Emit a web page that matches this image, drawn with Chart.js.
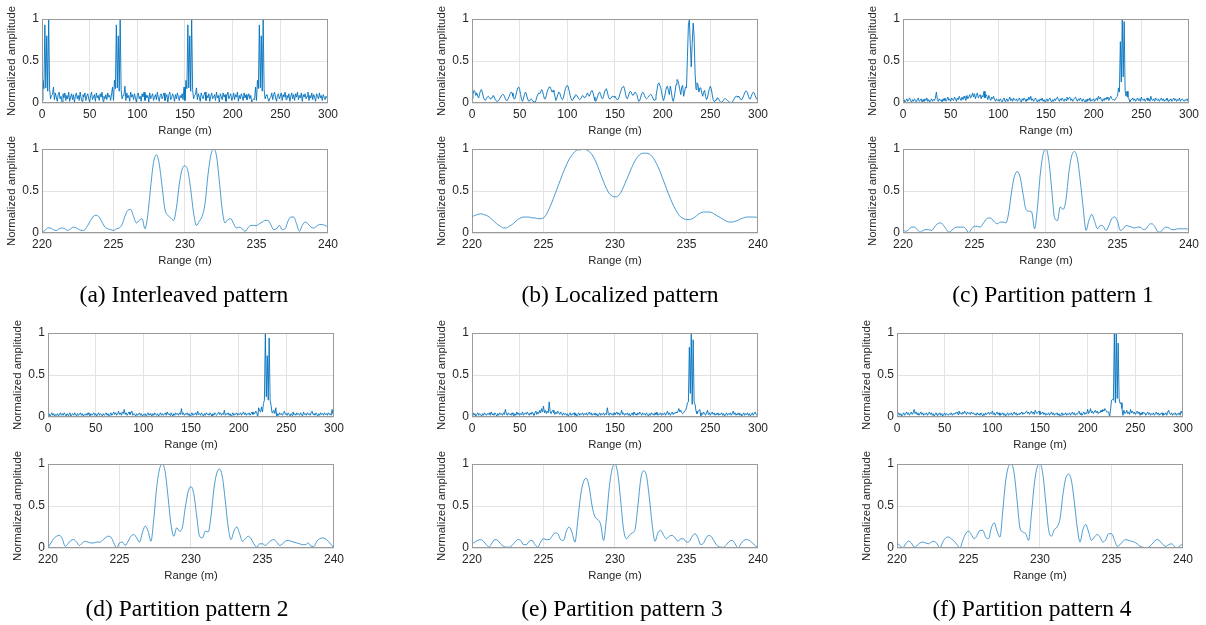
<!DOCTYPE html>
<html>
<head>
<meta charset="utf-8">
<title>Perfis de alcance</title>
<script src="https://cdn.jsdelivr.net/npm/chart.js@4.4.0/dist/chart.umd.min.js"></script>
<style>
  body { margin: 0; width: 1206px; height: 625px; background: #fff; position: relative; overflow: hidden; }
  canvas { position: absolute; }
  .legenda {
    position: absolute;
    font-family: "Liberation Serif", "Times New Roman", serif;
    font-size: 23.5px;
    color: #000;
    white-space: nowrap;
    transform: translate(-50%, -50%);
  }
</style>
</head>
<body>
<script>
// Ticks dos eixos
const rangeTicksWide = [0, 50, 100, 150, 200, 250, 300];
const rangeTicksZoom = [220, 225, 230, 235, 240];
const ampTicks = [0, 0.5, 1];

// Amostragem: 0..300 m de 1 em 1 m, 220..240 m de 0.2 em 0.2 m
const wideStart = 0, wideStep = 1;
const zoomStart = 220, zoomStep = 0.2;

// Perfis completos (0-300 m)
const wideInterleaved = [
  0.03,0.27,0.17,0.93,0.18,0.80,0.14,1.00,0.16,0.05,0.09,0.10,0.19,0.04,0.12,0.07,0.02,0.10,0.13,0.05,
  0.08,0.01,0.11,0.06,0.12,0.03,0.09,0.05,0.13,0.02,0.07,0.11,0.04,0.10,0.01,0.08,0.12,0.05,0.09,0.03,
  0.13,0.06,0.02,0.10,0.07,0.12,0.03,0.08,0.11,0.05,0.01,0.09,0.13,0.04,0.07,0.10,0.02,0.12,0.06,0.09,
  0.03,0.11,0.07,0.13,0.02,0.08,0.05,0.10,0.04,0.12,0.07,0.09,0.03,0.11,0.19,0.03,0.27,0.17,0.93,0.18,
  0.80,0.14,1.00,0.16,0.05,0.09,0.10,0.20,0.03,0.12,0.06,0.09,0.02,0.13,0.07,0.10,0.04,0.11,0.06,0.01,
  0.09,0.12,0.05,0.08,0.02,0.11,0.07,0.13,0.03,0.10,0.06,0.09,0.01,0.12,0.05,0.08,0.11,0.03,0.07,0.10,
  0.04,0.13,0.06,0.02,0.09,0.11,0.05,0.08,0.12,0.03,0.07,0.10,0.01,0.09,0.13,0.04,0.06,0.11,0.08,0.02,
  0.10,0.05,0.12,0.07,0.03,0.09,0.06,0.11,0.04,0.19,0.03,0.27,0.17,0.93,0.18,0.80,0.14,1.00,0.16,0.05,
  0.09,0.10,0.18,0.04,0.11,0.07,0.02,0.12,0.08,0.05,0.10,0.13,0.03,0.09,0.06,0.11,0.02,0.08,0.12,0.05,
  0.07,0.10,0.03,0.13,0.06,0.09,0.01,0.11,0.08,0.04,0.12,0.07,0.10,0.02,0.09,0.13,0.05,0.08,0.11,0.03,
  0.06,0.12,0.04,0.10,0.07,0.13,0.02,0.09,0.05,0.11,0.08,0.03,0.12,0.06,0.10,0.04,0.07,0.11,0.05,0.09,
  0.01,0.03,0.05,0.04,0.19,0.03,0.27,0.17,0.93,0.18,0.80,0.14,1.00,0.16,0.05,0.09,0.10,0.05,0.02,0.06,
  0.07,0.12,0.04,0.10,0.13,0.06,0.02,0.09,0.11,0.05,0.08,0.12,0.03,0.10,0.07,0.13,0.04,0.09,0.06,0.11,
  0.02,0.08,0.12,0.05,0.10,0.03,0.11,0.07,0.13,0.04,0.09,0.06,0.12,0.02,0.10,0.07,0.11,0.05,0.08,0.13,
  0.03,0.09,0.06,0.12,0.04,0.10,0.07,0.02,0.11,0.08,0.05,0.12,0.06,0.09,0.03,0.10,0.07,0.04,0.08,0.06,
  0.21
];
const wideLocalized = [
  0.05,0.10,0.15,0.14,0.09,0.12,0.08,0.06,0.11,0.15,0.16,0.12,0.07,0.04,0.03,0.05,0.07,0.08,0.07,0.05,
  0.05,0.07,0.09,0.08,0.05,0.03,0.02,0.02,0.03,0.05,0.07,0.09,0.10,0.10,0.08,0.05,0.03,0.03,0.05,0.08,
  0.11,0.13,0.12,0.08,0.05,0.05,0.09,0.14,0.18,0.19,0.16,0.10,0.04,0.02,0.05,0.10,0.13,0.11,0.06,0.03,
  0.02,0.04,0.05,0.04,0.02,0.01,0.00,0.03,0.07,0.10,0.12,0.11,0.13,0.16,0.14,0.09,0.05,0.05,0.09,0.14,
  0.17,0.19,0.19,0.16,0.13,0.15,0.13,0.08,0.03,0.06,0.10,0.13,0.12,0.08,0.05,0.04,0.07,0.12,0.17,0.20,
  0.21,0.19,0.14,0.09,0.05,0.03,0.04,0.07,0.09,0.10,0.09,0.07,0.05,0.04,0.05,0.07,0.09,0.08,0.06,0.07,
  0.09,0.12,0.10,0.08,0.11,0.14,0.15,0.12,0.07,0.03,0.02,0.05,0.09,0.12,0.13,0.10,0.06,0.05,0.08,0.13,
  0.16,0.17,0.13,0.08,0.05,0.05,0.06,0.08,0.08,0.07,0.08,0.06,0.04,0.04,0.06,0.10,0.14,0.17,0.19,0.20,
  0.17,0.11,0.06,0.05,0.08,0.12,0.14,0.13,0.10,0.09,0.11,0.13,0.13,0.10,0.05,0.02,0.03,0.07,0.11,0.13,
  0.12,0.09,0.06,0.05,0.06,0.07,0.09,0.10,0.10,0.08,0.05,0.03,0.04,0.08,0.15,0.22,0.24,0.21,0.18,0.12,
  0.06,0.03,0.07,0.13,0.19,0.20,0.15,0.10,0.20,0.14,0.06,0.02,0.06,0.13,0.22,0.28,0.27,0.22,0.16,0.10,
  0.19,0.21,0.08,0.13,0.19,0.18,0.55,0.93,0.99,0.70,0.43,0.71,0.95,0.79,0.36,0.16,0.24,0.22,0.13,0.18,
  0.18,0.12,0.08,0.13,0.15,0.08,0.04,0.06,0.12,0.17,0.20,0.17,0.10,0.04,0.02,0.02,0.04,0.06,0.06,0.04,
  0.02,0.01,0.01,0.02,0.04,0.05,0.05,0.04,0.03,0.02,0.01,0.01,0.00,0.01,0.03,0.05,0.07,0.08,0.08,0.07,
  0.08,0.06,0.04,0.04,0.06,0.09,0.12,0.14,0.14,0.12,0.08,0.05,0.05,0.08,0.11,0.13,0.12,0.09,0.06,0.04,
  0.03
];
const widePartition1 = [
  0.02,0.04,0.01,0.03,0.05,0.02,0.04,0.06,0.03,0.01,0.04,0.02,0.05,0.03,0.01,0.04,0.06,0.02,0.03,0.05,
  0.01,0.04,0.02,0.05,0.03,0.06,0.02,0.04,0.01,0.03,0.05,0.02,0.04,0.03,0.06,0.13,0.04,0.02,0.05,0.03,
  0.04,0.01,0.05,0.03,0.06,0.02,0.04,0.07,0.03,0.05,0.02,0.06,0.04,0.03,0.07,0.05,0.02,0.06,0.04,0.08,
  0.05,0.03,0.07,0.04,0.08,0.06,0.03,0.09,0.05,0.07,0.10,0.06,0.08,0.12,0.07,0.11,0.05,0.09,0.12,0.06,
  0.08,0.10,0.05,0.09,0.07,0.14,0.06,0.10,0.08,0.04,0.09,0.06,0.03,0.07,0.05,0.08,0.04,0.02,0.05,0.03,
  0.04,0.02,0.05,0.03,0.01,0.04,0.06,0.02,0.03,0.05,0.02,0.04,0.07,0.03,0.05,0.02,0.06,0.04,0.03,0.05,
  0.02,0.04,0.06,0.03,0.01,0.05,0.03,0.06,0.04,0.02,0.05,0.03,0.07,0.04,0.08,0.03,0.05,0.02,0.04,0.06,
  0.03,0.01,0.04,0.02,0.05,0.03,0.06,0.02,0.04,0.01,0.03,0.05,0.02,0.04,0.06,0.03,0.01,0.04,0.02,0.05,
  0.03,0.06,0.07,0.04,0.02,0.05,0.03,0.06,0.04,0.02,0.05,0.03,0.07,0.04,0.06,0.07,0.03,0.05,0.02,0.04,
  0.06,0.07,0.04,0.02,0.05,0.03,0.06,0.04,0.02,0.05,0.03,0.01,0.04,0.02,0.05,0.03,0.06,0.02,0.04,0.03,
  0.05,0.02,0.04,0.06,0.03,0.08,0.05,0.07,0.04,0.02,0.05,0.03,0.06,0.04,0.07,0.05,0.03,0.06,0.08,0.05,
  0.04,0.04,0.03,0.05,0.07,0.08,0.18,0.13,0.73,0.25,1.00,0.31,0.97,0.15,0.08,0.14,0.07,0.05,0.01,0.04,
  0.04,0.06,0.03,0.05,0.02,0.04,0.06,0.03,0.05,0.02,0.07,0.04,0.03,0.05,0.02,0.04,0.06,0.03,0.05,0.02,
  0.08,0.04,0.03,0.05,0.02,0.06,0.04,0.03,0.05,0.02,0.04,0.06,0.03,0.05,0.02,0.04,0.03,0.06,0.02,0.04,
  0.03,0.05,0.02,0.04,0.06,0.03,0.05,0.02,0.04,0.03,0.06,0.02,0.04,0.05,0.03,0.02,0.04,0.03,0.05,0.02,
  0.03
];
const widePartition2 = [
  0.02,0.04,0.01,0.03,0.05,0.02,0.04,0.01,0.03,0.02,0.04,0.01,0.03,0.05,0.02,0.04,0.02,0.05,0.03,0.01,
  0.04,0.02,0.03,0.05,0.01,0.03,0.04,0.02,0.05,0.03,0.01,0.04,0.02,0.03,0.05,0.02,0.04,0.01,0.03,0.02,
  0.04,0.02,0.05,0.03,0.01,0.04,0.02,0.03,0.05,0.02,0.04,0.01,0.03,0.05,0.02,0.04,0.03,0.01,0.04,0.02,
  0.03,0.05,0.02,0.04,0.01,0.03,0.05,0.02,0.04,0.06,0.03,0.05,0.02,0.04,0.07,0.03,0.05,0.02,0.06,0.04,
  0.09,0.03,0.05,0.02,0.04,0.06,0.03,0.05,0.07,0.02,0.04,0.03,0.01,0.04,0.02,0.03,0.05,0.02,0.04,0.01,
  0.03,0.02,0.04,0.01,0.03,0.05,0.02,0.04,0.03,0.01,0.04,0.02,0.05,0.03,0.02,0.04,0.01,0.03,0.05,0.02,
  0.04,0.02,0.03,0.05,0.02,0.06,0.03,0.04,0.02,0.05,0.03,0.01,0.04,0.02,0.05,0.03,0.04,0.02,0.05,0.03,
  0.10,0.03,0.05,0.02,0.04,0.03,0.05,0.02,0.04,0.01,0.03,0.05,0.02,0.04,0.03,0.05,0.02,0.07,0.03,0.04,
  0.02,0.05,0.03,0.01,0.04,0.02,0.05,0.03,0.04,0.02,0.05,0.03,0.01,0.04,0.02,0.05,0.03,0.02,0.04,0.06,
  0.03,0.05,0.02,0.04,0.03,0.08,0.02,0.04,0.03,0.05,0.02,0.04,0.01,0.03,0.05,0.02,0.04,0.03,0.05,0.02,
  0.04,0.03,0.05,0.02,0.04,0.06,0.03,0.05,0.02,0.04,0.03,0.05,0.02,0.04,0.06,0.03,0.05,0.04,0.07,0.05,
  0.00,0.11,0.07,0.06,0.12,0.06,0.16,0.20,1.00,0.24,0.73,0.20,0.94,0.20,0.14,0.05,0.07,0.08,0.04,0.11,
  0.00,0.04,0.02,0.05,0.03,0.04,0.02,0.05,0.07,0.03,0.04,0.02,0.05,0.03,0.01,0.04,0.02,0.06,0.03,0.04,
  0.02,0.05,0.03,0.04,0.02,0.05,0.03,0.01,0.06,0.03,0.04,0.02,0.05,0.03,0.04,0.02,0.05,0.07,0.03,0.04,
  0.02,0.05,0.03,0.01,0.04,0.02,0.05,0.03,0.04,0.02,0.05,0.03,0.04,0.02,0.05,0.03,0.04,0.02,0.09,0.03,
  0.02
];
const widePartition3 = [
  0.03,0.05,0.02,0.04,0.01,0.03,0.05,0.02,0.04,0.03,0.01,0.04,0.02,0.05,0.03,0.02,0.04,0.03,0.05,0.02,
  0.06,0.03,0.04,0.02,0.05,0.03,0.01,0.04,0.02,0.05,0.03,0.04,0.02,0.05,0.03,0.09,0.04,0.02,0.05,0.03,
  0.04,0.02,0.05,0.03,0.01,0.04,0.02,0.06,0.03,0.05,0.02,0.04,0.03,0.06,0.02,0.04,0.05,0.03,0.06,0.04,
  0.02,0.05,0.03,0.06,0.04,0.02,0.05,0.07,0.03,0.06,0.04,0.08,0.05,0.10,0.06,0.13,0.05,0.08,0.04,0.07,
  0.05,0.18,0.06,0.04,0.07,0.08,0.05,0.03,0.06,0.04,0.07,0.05,0.03,0.06,0.04,0.02,0.05,0.03,0.04,0.02,
  0.04,0.01,0.03,0.05,0.02,0.04,0.03,0.05,0.02,0.04,0.01,0.03,0.05,0.02,0.04,0.03,0.05,0.02,0.04,0.03,
  0.05,0.02,0.04,0.06,0.03,0.05,0.02,0.04,0.03,0.05,0.02,0.04,0.01,0.03,0.05,0.02,0.04,0.03,0.05,0.02,
  0.04,0.03,0.11,0.04,0.02,0.05,0.03,0.04,0.02,0.05,0.03,0.04,0.06,0.03,0.05,0.02,0.04,0.08,0.03,0.05,
  0.02,0.04,0.03,0.05,0.02,0.04,0.01,0.03,0.05,0.02,0.06,0.03,0.04,0.02,0.05,0.03,0.06,0.04,0.02,0.05,
  0.03,0.04,0.02,0.05,0.03,0.01,0.04,0.02,0.05,0.03,0.04,0.02,0.05,0.03,0.06,0.02,0.04,0.03,0.05,0.02,
  0.04,0.03,0.05,0.02,0.04,0.07,0.03,0.05,0.02,0.04,0.06,0.03,0.05,0.04,0.06,0.05,0.07,0.10,0.06,0.08,
  0.05,0.04,0.05,0.07,0.08,0.11,0.17,0.18,0.83,0.28,1.00,0.15,0.92,0.18,0.15,0.07,0.04,0.06,0.08,0.09,
  0.00,0.05,0.03,0.06,0.04,0.02,0.05,0.08,0.03,0.05,0.02,0.04,0.06,0.03,0.05,0.02,0.04,0.03,0.05,0.02,
  0.04,0.03,0.05,0.02,0.04,0.01,0.03,0.05,0.02,0.04,0.03,0.05,0.02,0.04,0.07,0.03,0.05,0.02,0.04,0.03,
  0.05,0.02,0.04,0.01,0.03,0.05,0.02,0.04,0.03,0.05,0.02,0.04,0.01,0.03,0.05,0.02,0.04,0.06,0.03,0.02,
  0.01
];
const widePartition4 = [
  0.02,0.04,0.05,0.02,0.04,0.01,0.03,0.05,0.02,0.04,0.06,0.03,0.05,0.02,0.04,0.06,0.03,0.05,0.09,0.04,
  0.06,0.03,0.05,0.02,0.04,0.06,0.03,0.05,0.02,0.04,0.03,0.05,0.02,0.04,0.06,0.03,0.05,0.02,0.04,0.01,
  0.03,0.05,0.02,0.04,0.03,0.05,0.02,0.04,0.01,0.03,0.05,0.02,0.04,0.03,0.02,0.04,0.03,0.05,0.02,0.04,
  0.03,0.05,0.04,0.06,0.03,0.07,0.04,0.05,0.03,0.06,0.04,0.07,0.05,0.03,0.06,0.04,0.05,0.03,0.06,0.04,
  0.05,0.03,0.04,0.02,0.05,0.03,0.04,0.02,0.05,0.03,0.01,0.04,0.02,0.05,0.03,0.04,0.06,0.03,0.05,0.04,
  0.07,0.03,0.05,0.02,0.04,0.06,0.03,0.05,0.02,0.04,0.03,0.05,0.02,0.04,0.01,0.03,0.05,0.02,0.04,0.03,
  0.05,0.02,0.04,0.06,0.03,0.05,0.02,0.04,0.03,0.05,0.04,0.06,0.03,0.05,0.04,0.06,0.07,0.04,0.06,0.03,
  0.05,0.07,0.04,0.06,0.03,0.08,0.05,0.04,0.06,0.07,0.03,0.05,0.04,0.06,0.03,0.05,0.02,0.04,0.03,0.05,
  0.02,0.04,0.06,0.03,0.05,0.02,0.04,0.03,0.05,0.02,0.04,0.01,0.03,0.05,0.02,0.04,0.03,0.05,0.02,0.04,
  0.03,0.05,0.02,0.04,0.06,0.03,0.05,0.02,0.04,0.03,0.05,0.07,0.03,0.05,0.02,0.04,0.06,0.03,0.05,0.04,
  0.09,0.04,0.06,0.10,0.05,0.07,0.04,0.06,0.08,0.05,0.07,0.04,0.06,0.05,0.08,0.06,0.09,0.07,0.10,0.08,
  0.06,0.06,0.06,0.00,0.08,0.20,0.21,0.20,1.00,0.17,1.00,0.22,0.88,0.22,0.16,0.17,0.10,0.02,0.08,0.04,
  0.05,0.08,0.04,0.06,0.03,0.09,0.05,0.07,0.04,0.06,0.03,0.05,0.07,0.04,0.06,0.02,0.05,0.03,0.06,0.04,
  0.05,0.02,0.04,0.06,0.03,0.05,0.02,0.04,0.03,0.05,0.02,0.04,0.06,0.03,0.05,0.02,0.04,0.03,0.05,0.02,
  0.04,0.03,0.05,0.02,0.06,0.08,0.04,0.03,0.05,0.02,0.04,0.03,0.05,0.02,0.04,0.03,0.05,0.02,0.07,0.04,
  0.03
];

// Detalhe em torno do alvo (220-240 m)
const zoomInterleaved = [
  0.01,0.03,0.06,0.06,0.04,0.03,0.05,0.06,0.05,0.03,
  0.05,0.07,0.06,0.04,0.03,0.04,0.09,0.15,0.20,0.21,
  0.19,0.13,0.07,0.05,0.04,0.03,0.05,0.06,0.10,0.20,
  0.27,0.28,0.20,0.12,0.15,0.17,0.05,0.22,0.55,0.84,
  0.93,0.82,0.55,0.28,0.21,0.18,0.15,0.30,0.58,0.76,
  0.80,0.74,0.52,0.24,0.09,0.14,0.20,0.35,0.68,0.92,
  1.00,0.92,0.62,0.28,0.12,0.16,0.17,0.11,0.06,0.07,
  0.05,0.02,0.06,0.09,0.09,0.09,0.11,0.13,0.15,0.15,
  0.10,0.04,0.05,0.09,0.04,0.05,0.14,0.19,0.19,0.11,
  0.02,0.09,0.13,0.11,0.07,0.06,0.08,0.10,0.10,0.09,
  0.07
];
const zoomLocalized = [
  0.19,0.21,0.22,0.23,0.22,0.21,0.19,0.16,0.13,0.10,
  0.08,0.06,0.06,0.08,0.10,0.13,0.16,0.18,0.19,0.19,
  0.19,0.18,0.18,0.17,0.17,0.18,0.22,0.29,0.37,0.46,
  0.55,0.64,0.73,0.81,0.88,0.93,0.97,0.99,0.99,1.00,
  0.99,0.97,0.93,0.87,0.79,0.70,0.61,0.53,0.47,0.44,
  0.43,0.44,0.48,0.55,0.63,0.71,0.79,0.86,0.91,0.94,
  0.95,0.95,0.94,0.91,0.86,0.79,0.71,0.62,0.53,0.44,
  0.36,0.29,0.23,0.19,0.17,0.16,0.16,0.17,0.19,0.22,
  0.24,0.25,0.25,0.25,0.24,0.22,0.20,0.18,0.16,0.14,
  0.13,0.13,0.14,0.15,0.17,0.18,0.19,0.19,0.19,0.19,
  0.18
];
const zoomPartition1 = [
  0.04,0.02,0.04,0.07,0.07,0.04,0.01,0.03,0.04,0.04,
  0.03,0.07,0.11,0.12,0.10,0.05,0.01,0.03,0.06,0.07,
  0.07,0.07,0.05,0.00,0.05,0.08,0.08,0.07,0.11,0.16,
  0.18,0.17,0.13,0.11,0.13,0.13,0.12,0.25,0.50,0.68,
  0.73,0.66,0.46,0.28,0.26,0.25,0.05,0.30,0.70,0.94,
  1.00,0.86,0.52,0.18,0.15,0.31,0.28,0.40,0.72,0.92,
  0.97,0.88,0.62,0.30,0.03,0.15,0.22,0.14,0.05,0.09,
  0.08,0.03,0.09,0.17,0.19,0.14,0.03,0.05,0.09,0.08,
  0.07,0.06,0.07,0.07,0.04,0.05,0.10,0.11,0.08,0.02,
  0.01,0.05,0.07,0.06,0.04,0.04,0.05,0.05,0.05,0.05,
  0.04
];
const zoomPartition2 = [
  0.00,0.06,0.11,0.14,0.15,0.11,0.02,0.05,0.09,0.10,
  0.07,0.03,0.06,0.08,0.07,0.06,0.06,0.07,0.07,0.09,
  0.12,0.14,0.13,0.06,0.00,0.06,0.07,0.03,0.08,0.14,
  0.16,0.12,0.07,0.18,0.26,0.20,0.08,0.35,0.72,0.94,
  1.00,0.90,0.60,0.28,0.14,0.24,0.20,0.25,0.48,0.67,
  0.73,0.64,0.38,0.14,0.12,0.20,0.19,0.38,0.70,0.89,
  0.94,0.84,0.56,0.25,0.10,0.20,0.25,0.17,0.08,0.11,
  0.14,0.11,0.05,0.01,0.05,0.05,0.03,0.06,0.09,0.10,
  0.07,0.03,0.05,0.08,0.09,0.08,0.07,0.06,0.05,0.04,
  0.04,0.06,0.02,0.02,0.08,0.11,0.12,0.11,0.08,0.04,
  0.00
];
const zoomPartition3 = [
  0.05,0.07,0.09,0.10,0.08,0.04,0.01,0.06,0.10,0.09,
  0.05,0.02,0.01,0.01,0.03,0.07,0.10,0.09,0.04,0.04,
  0.08,0.09,0.04,0.01,0.07,0.11,0.10,0.10,0.14,0.18,
  0.17,0.10,0.09,0.20,0.25,0.18,0.07,0.33,0.63,0.79,
  0.83,0.72,0.50,0.37,0.34,0.28,0.09,0.35,0.72,0.94,
  1.00,0.88,0.56,0.22,0.11,0.15,0.18,0.22,0.50,0.82,
  0.92,0.86,0.60,0.28,0.08,0.18,0.21,0.15,0.11,0.14,
  0.15,0.12,0.08,0.11,0.11,0.07,0.08,0.14,0.17,0.12,
  0.04,0.06,0.13,0.15,0.12,0.06,0.02,0.01,0.01,0.04,
  0.08,0.09,0.05,0.00,0.05,0.09,0.10,0.09,0.06,0.03,
  0.00
];
const zoomPartition4 = [
  0.06,0.03,0.00,0.05,0.08,0.06,0.01,0.03,0.06,0.07,
  0.06,0.05,0.07,0.08,0.05,0.00,0.07,0.12,0.13,0.11,
  0.08,0.04,0.00,0.09,0.17,0.20,0.16,0.11,0.15,0.21,
  0.21,0.13,0.11,0.24,0.30,0.20,0.13,0.45,0.80,0.97,
  1.00,0.88,0.56,0.24,0.19,0.17,0.09,0.40,0.76,0.96,
  1.00,0.88,0.55,0.22,0.14,0.22,0.25,0.35,0.63,0.83,
  0.88,0.80,0.55,0.25,0.07,0.22,0.28,0.19,0.09,0.13,
  0.16,0.13,0.07,0.10,0.17,0.17,0.10,0.02,0.04,0.08,
  0.10,0.09,0.08,0.07,0.05,0.02,0.01,0.00,0.01,0.04,
  0.08,0.10,0.08,0.04,0.02,0.04,0.05,0.02,0.00,0.03,
  0.05
];

const legendas = [
  '(a) Interleaved pattern', '(b) Localized pattern', '(c) Partition pattern 1',
  '(d) Partition pattern 2', '(e) Partition pattern 3', '(f) Partition pattern 4'
];

// Estilo
const AZUL = '#0072BD';
const GRADE = '#e3e3e3';
const MOLDURA = '#9a9a9a';
const TEXTO = '#262626';
const FONTE = '"Liberation Sans", Arial, Helvetica, sans-serif';

// Geometria de cada eixo (px)
const PAD_L = 46, PAD_R = 14, PAD_T = 16, PAD_B = 40;
const PLOT_W = 286, PLOT_H = 84;

function pontos(valores, inicio, passo) {
  return valores.map((v, i) => ({ x: +(inicio + i * passo).toFixed(2), y: v }));
}

// caixa em volta do eixo + titulo vertical (sem maxWidth, para nao esmagar o texto)
const moldura = {
  id: 'moldura',
  afterDatasetsDraw(chart) {
    const a = chart.chartArea;
    const ctx = chart.ctx;
    ctx.save();
    ctx.strokeStyle = MOLDURA;
    ctx.lineWidth = 1;
    ctx.strokeRect(Math.round(a.left) + 0.5, Math.round(a.top) + 0.5,
      Math.round(a.right - a.left) - 1, Math.round(a.bottom - a.top) - 1);
    ctx.restore();
  },
  afterDraw(chart) {
    const a = chart.chartArea;
    const ctx = chart.ctx;
    ctx.save();
    ctx.fillStyle = TEXTO;
    ctx.font = '11.4px ' + FONTE;
    ctx.textAlign = 'center';
    ctx.textBaseline = 'middle';
    ctx.translate(a.left - 30, (a.top + a.bottom) / 2);
    ctx.rotate(-Math.PI / 2);
    ctx.fillText('Normalized amplitude', 0, 0);
    ctx.restore();
  }
};

function criarGrafico(plotLeft, plotTop, valores, inicio, passo, ticksX, suave) {
  const canvas = document.createElement('canvas');
  const w = PLOT_W + PAD_L + PAD_R;
  const h = PLOT_H + PAD_T + PAD_B;
  canvas.width = w;
  canvas.height = h;
  canvas.style.width = w + 'px';
  canvas.style.height = h + 'px';
  canvas.style.left = (plotLeft - PAD_L) + 'px';
  canvas.style.top = (plotTop - PAD_T) + 'px';
  document.body.appendChild(canvas);

  const fonteTick = { family: FONTE, size: 12 };

  return new Chart(canvas.getContext('2d'), {
    type: 'line',
    data: {
      datasets: [{
        data: pontos(valores, inicio, passo),
        borderColor: AZUL,
        borderWidth: suave ? 0.7 : 0.9,
        pointRadius: 0,
        fill: false,
        tension: 0,
        cubicInterpolationMode: suave ? 'monotone' : 'default'
      }]
    },
    options: {
      responsive: false,
      animation: false,
      devicePixelRatio: 1,
      events: [],
      layout: { padding: { top: PAD_T, right: PAD_R, left: 0, bottom: 0 } },
      plugins: { legend: { display: false }, tooltip: { enabled: false } },
      scales: {
        x: {
          type: 'linear',
          min: ticksX[0],
          max: ticksX[ticksX.length - 1],
          afterBuildTicks: s => { s.ticks = ticksX.map(v => ({ value: v })); },
          afterFit: s => { s.height = PAD_B; },
          grid: { color: GRADE, drawTicks: false },
          border: { display: false },
          ticks: { padding: 4, color: TEXTO, font: fonteTick, maxRotation: 0, autoSkip: false, callback: v => String(v) },
          title: { display: true, text: 'Range (m)', color: TEXTO, font: { family: FONTE, size: 11.3 }, padding: { top: 0, bottom: 5 } }
        },
        y: {
          type: 'linear',
          min: 0,
          max: 1,
          afterBuildTicks: s => { s.ticks = ampTicks.map(v => ({ value: v })); },
          afterFit: s => { s.width = PAD_L; },
          grid: { color: GRADE, drawTicks: false },
          border: { display: false },
          ticks: { padding: 3, color: TEXTO, font: fonteTick, callback: v => String(v) }
        }
      }
    },
    plugins: [moldura]
  });
}

// painel: [x do eixo, y do eixo de cima, y do eixo de baixo, perfil completo, detalhe, centro da legenda, y da legenda]
const paineis = [
  [42, 19, 149, wideInterleaved, zoomInterleaved, 184, 294],
  [472, 19, 149, wideLocalized, zoomLocalized, 620, 294],
  [903, 19, 149, widePartition1, zoomPartition1, 1053, 294],
  [48, 333, 464, widePartition2, zoomPartition2, 187, 608],
  [472, 333, 464, widePartition3, zoomPartition3, 622, 608],
  [897, 333, 464, widePartition4, zoomPartition4, 1032, 608]
];

paineis.forEach((p, i) => {
  criarGrafico(p[0], p[1], p[3], wideStart, wideStep, rangeTicksWide, false);
  criarGrafico(p[0], p[2], p[4], zoomStart, zoomStep, rangeTicksZoom, true);

  const leg = document.createElement('div');
  leg.className = 'legenda';
  leg.textContent = legendas[i];
  leg.style.left = p[5] + 'px';
  leg.style.top = p[6] + 'px';
  document.body.appendChild(leg);
});
</script>
</body>
</html>
